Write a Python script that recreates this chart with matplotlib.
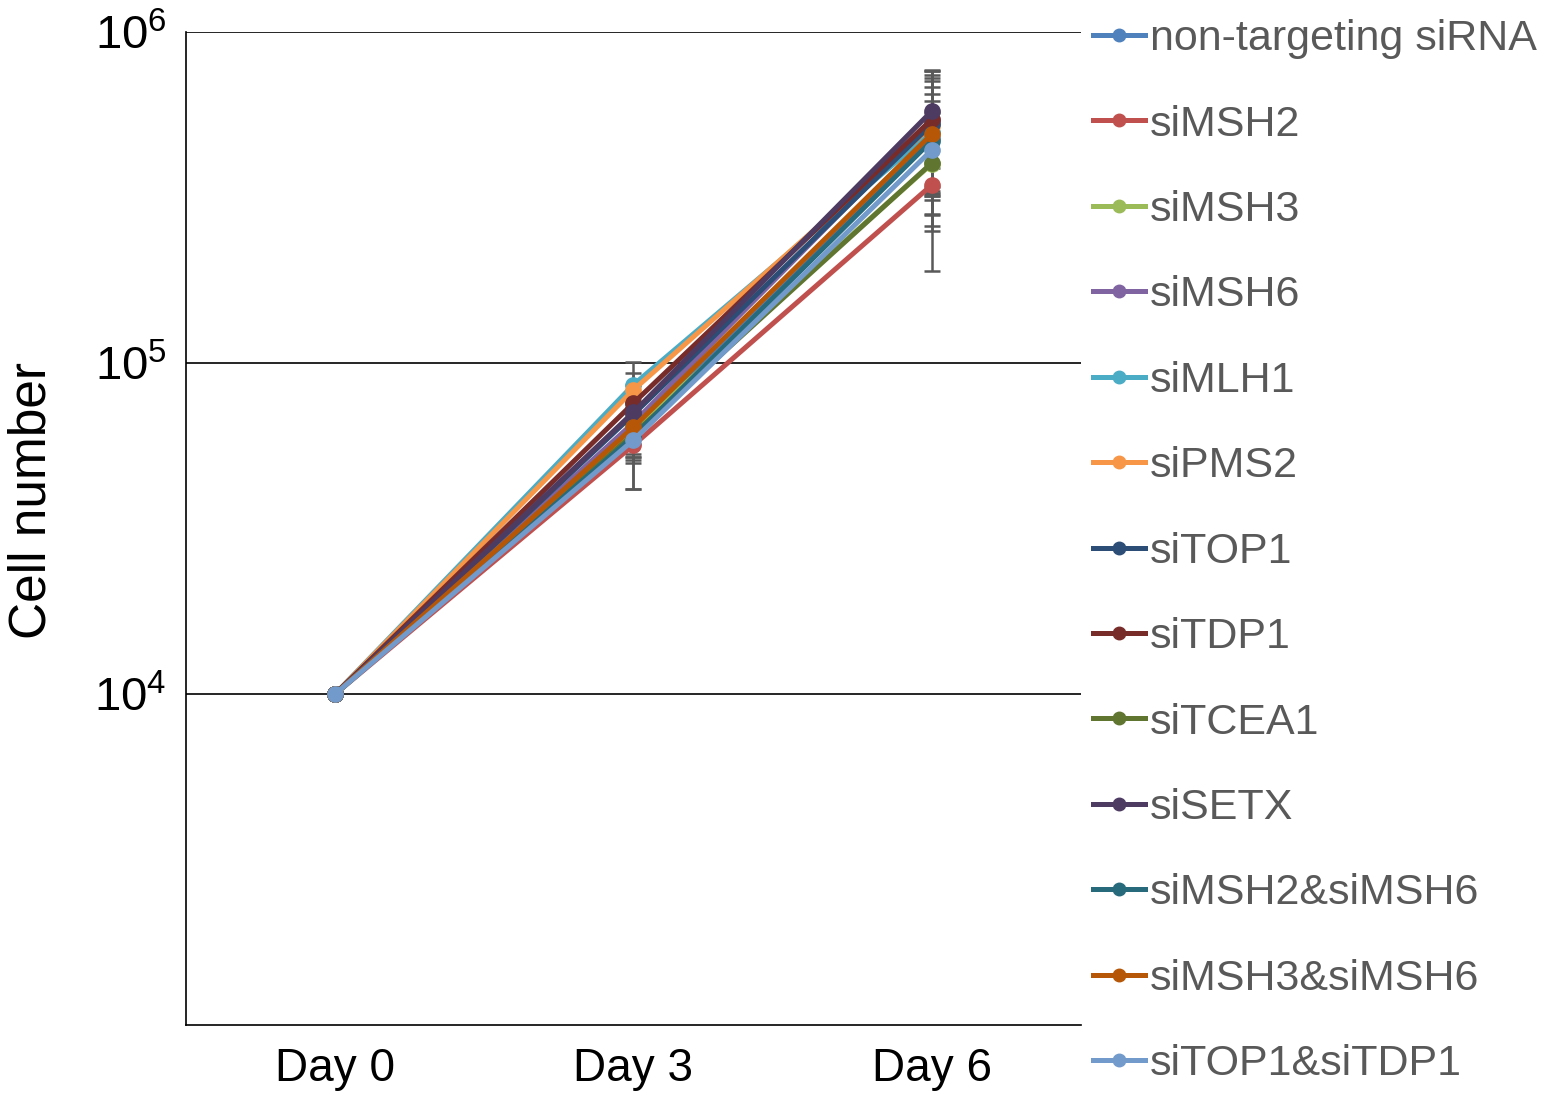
import matplotlib
matplotlib.use("Agg")
import matplotlib.pyplot as plt
from matplotlib.ticker import FixedLocator, NullLocator

plt.rcParams['font.family'] = ['Liberation Sans', 'DejaVu Sans']

days = ["Day 0", "Day 3", "Day 6"]
labels = ["non-targeting siRNA", "siMSH2", "siMSH3", "siMSH6", "siMLH1", "siPMS2",
          "siTOP1", "siTDP1", "siTCEA1", "siSETX", "siMSH2&siMSH6", "siMSH3&siMSH6",
          "siTOP1&siTDP1"]
colors = ["#4F81BD", "#C0504D", "#9BBB59", "#8064A2", "#4BACC6", "#F79646",
          "#2C4D75", "#772C2A", "#5F7530", "#4D3B62", "#276A7C", "#B65708", "#729ACA"]

day3 = [62000, 56500, 63000, 66000, 86000, 83000, 70000, 75700, 61000, 71000, 60000, 64000, 58500]
day6 = [480000, 345000, 400000, 540000, 500000, 520000, 527000, 545000, 402000, 577000, 470000, 492000, 440000]
err3 = [12000, 15000, 10000, 9000, 15000, 10000, 8000, 10000, 10000, 9000, 8000, 12000, 17000]
err6 = [230000, 155000, 140000, 200000, 180000, 240000, 200000, 220000, 120000, 190000, 150000, 160000, 130000]

fig = plt.figure(figsize=(15.54, 10.93), dpi=100)
ax = fig.add_axes([0.1197, 0.0622, 0.5759, 0.9085])

x = [0, 1, 2]
for i, lab in enumerate(labels):
    y = [10000, day3[i], day6[i]]
    e = [0, err3[i], err6[i]]
    ax.errorbar(x, y, yerr=e, fmt='none', ecolor='#595959', elinewidth=1.8,
                capsize=6, capthick=1.8, zorder=2)
for i, lab in enumerate(labels):
    y = [10000, day3[i], day6[i]]
    ax.plot(x, y, color=colors[i], lw=3.6, marker='o', ms=11, label=lab, zorder=3)

ax.set_yscale('log')
ax.set_ylim(1000, 1e6)
ax.set_xlim(-0.5, 2.5)
ax.yaxis.set_major_locator(FixedLocator([1e4, 1e5, 1e6]))
ax.yaxis.set_minor_locator(NullLocator())
ax.set_yticklabels([r'$\mathregular{10^4}$', r'$\mathregular{10^5}$', r'$\mathregular{10^6}$'])
ax.set_xticks(x)
ax.set_xticklabels(days)
ax.tick_params(axis='y', length=0, labelsize=34, pad=14)
ax.tick_params(axis='x', length=0, labelsize=33, pad=16)
ax.grid(axis='y', color='black', lw=1.2)
ax.set_axisbelow(True)
for s in ['top', 'right']:
    ax.spines[s].set_visible(False)
for s in ['left', 'bottom']:
    ax.spines[s].set_linewidth(1.2)
ax.set_ylabel("Cell number", fontsize=37)
ax.yaxis.set_label_coords(-0.145, 0.528)

leg = ax.legend(loc='upper left', bbox_to_anchor=(0.7033, 0.9825), bbox_transform=fig.transFigure,
                frameon=False, fontsize=31, handlelength=1.2, handletextpad=0.12,
                labelspacing=1.055, borderaxespad=0, borderpad=0)
for t in leg.get_texts():
    t.set_color('#595959')
for h in leg.legend_handles:
    h.set_markersize(9)
    h.set_linewidth(3.6)

fig.savefig("out.png", dpi=100)
